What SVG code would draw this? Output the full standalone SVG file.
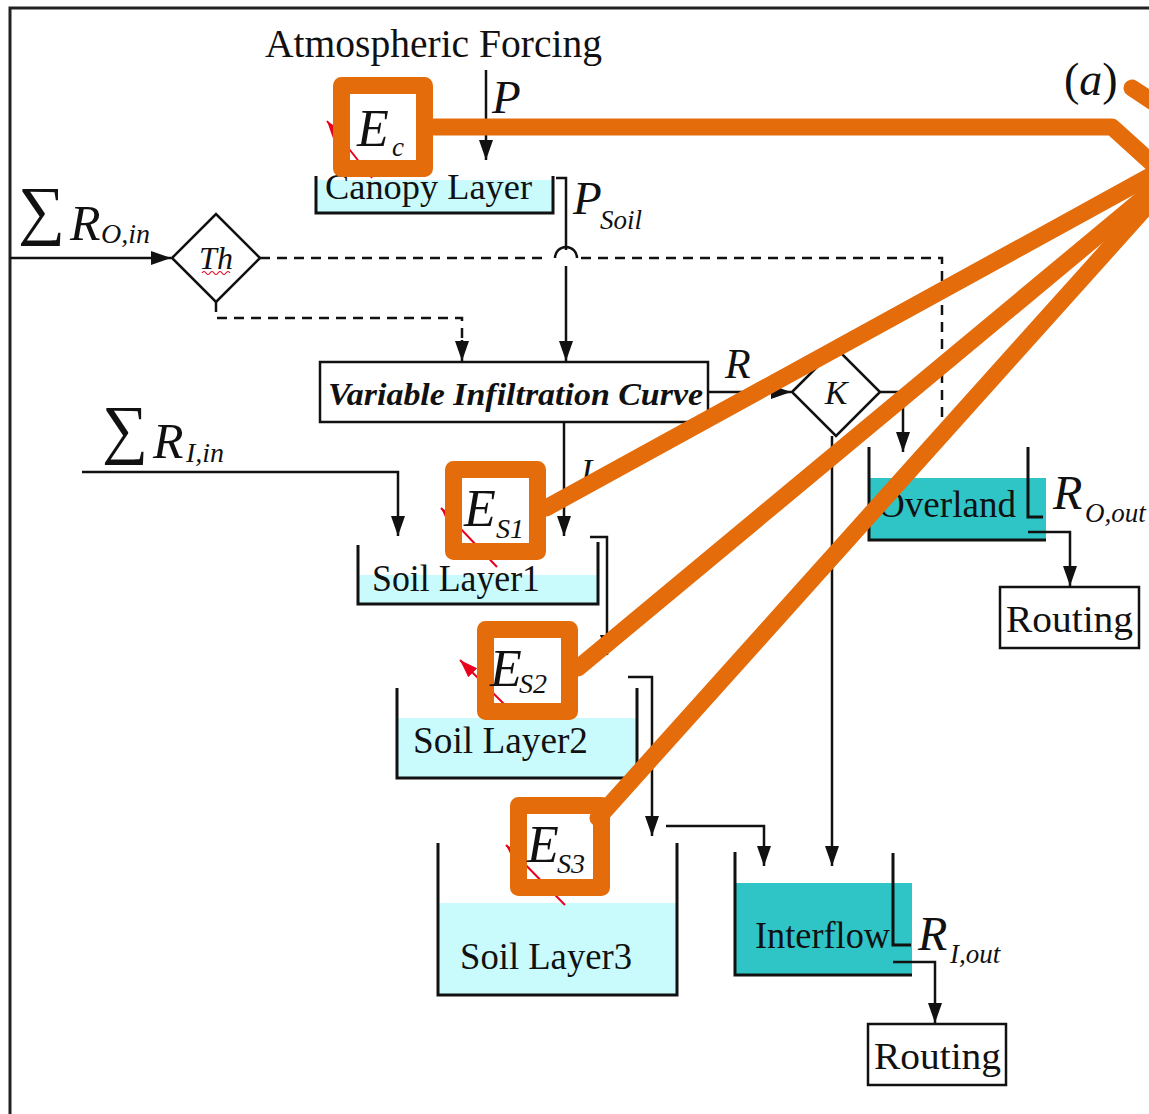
<svg xmlns="http://www.w3.org/2000/svg" width="1149" height="1114" viewBox="0 0 1149 1114">
<defs>
<style>
.t{font-family:"Liberation Serif","Times New Roman",serif;fill:#111}
.i{font-style:italic}
.ln{stroke:#111;stroke-width:2.5;fill:none}
.ds{stroke:#111;stroke-width:2.5;fill:none;stroke-dasharray:10 7}
.bk{stroke:#111;stroke-width:3;fill:none}
.or{stroke:#e46c0a;stroke-width:17;fill:none;stroke-linecap:round;stroke-linejoin:round}
.orb{stroke:#e46c0a;stroke-width:17;fill:none;stroke-linejoin:round}
.lc{fill:#c9fbfd}
.tl{fill:#2fc5c6}
.rd{stroke:#e8001c;stroke-width:2;fill:none}
</style>
<marker id="ah" viewBox="0 0 20 14" refX="20" refY="7" markerWidth="20" markerHeight="14" markerUnits="userSpaceOnUse" orient="auto">
<path d="M0,0 L20,7 L0,14 z" fill="#111"/>
</marker>
<marker id="ar" viewBox="0 0 20 14" refX="0" refY="7" markerWidth="18" markerHeight="13" markerUnits="userSpaceOnUse" orient="auto">
<path d="M20,0 L0,7 L20,14 z" fill="#e8001c"/>
</marker>
</defs>
<rect width="1149" height="1114" fill="#fff"/>
<path d="M10,1114 V8 H1149" stroke="#222" stroke-width="3" fill="none"/>

<g id="title">
<text class="t" x="265" y="57" font-size="39" textLength="337" lengthAdjust="spacingAndGlyphs">Atmospheric Forcing</text>
<text class="t" x="1064" y="95" font-size="46"><tspan>(</tspan><tspan class="i">a</tspan><tspan>)</tspan></text>
</g>

<g id="canopy">
<rect class="lc" x="317" y="180" width="235" height="32"/>
<path class="bk" d="M316,176 V213 H553 V176"/>
<text class="t" x="325" y="199" font-size="36" textLength="207" lengthAdjust="spacingAndGlyphs">Canopy Layer</text>
</g>

<g id="th">
<polygon points="172,258 216,214 260,258 216,302" fill="#fff" stroke="#111" stroke-width="2.5"/>
<text class="t i" x="216" y="269" font-size="32" text-anchor="middle">Th</text>
<path d="M202,273 q2,-3 4,0 t4,0 t4,0 t4,0 t4,0 t4,0 t4,0" stroke="#e8001c" stroke-width="1.2" fill="none"/>
</g>

<g id="vic">
<rect x="320" y="362" width="388" height="60" fill="#fff" stroke="#111" stroke-width="2.5"/>
<text class="t i" x="328" y="405" font-size="32" font-weight="bold" textLength="375" lengthAdjust="spacingAndGlyphs">Variable Infiltration Curve</text>
</g>

<g id="k">
<polygon points="792,392 836,348 880,392 836,436" fill="#fff" stroke="#111" stroke-width="2.5"/>
<text class="t i" x="836" y="404" font-size="34" text-anchor="middle">K</text>
</g>

<g id="overland">
<rect class="tl" x="869" y="478" width="177" height="62"/>
<path class="bk" d="M869,447 V540 H1046"/>
<path class="bk" d="M1028,447 V517 H1043"/>
<text class="t" x="878" y="517" font-size="37" textLength="138" lengthAdjust="spacingAndGlyphs">Overland</text>
</g>

<g id="routing1">
<rect x="1000" y="587" width="139" height="61" fill="#fff" stroke="#111" stroke-width="2.5"/>
<text class="t" x="1006" y="632" font-size="38" textLength="127" lengthAdjust="spacingAndGlyphs">Routing</text>
</g>

<g id="soil1">
<rect class="lc" x="359" y="575" width="238" height="29"/>
<path class="bk" d="M358,545 V604 H598 V542"/>
<text class="t" x="372" y="591" font-size="37" textLength="168" lengthAdjust="spacingAndGlyphs">Soil Layer1</text>
</g>

<g id="soil2">
<rect class="lc" x="398" y="718" width="238" height="60"/>
<path class="bk" d="M397,688 V778 H637 V688"/>
<text class="t" x="413" y="753" font-size="37" textLength="175" lengthAdjust="spacingAndGlyphs">Soil Layer2</text>
</g>

<g id="soil3">
<rect class="lc" x="439" y="903" width="237" height="92"/>
<path class="bk" d="M438,843 V995 H677 V843"/>
<text class="t" x="460" y="969" font-size="37" textLength="172" lengthAdjust="spacingAndGlyphs">Soil Layer3</text>
</g>

<g id="interflow">
<rect class="tl" x="736" y="883" width="176" height="92"/>
<path class="bk" d="M735,852 V975 H912"/>
<path class="bk" d="M893,853 V945 H911"/>
<text class="t" x="755" y="948" font-size="37" textLength="135" lengthAdjust="spacingAndGlyphs">Interflow</text>
</g>

<g id="routing2">
<rect x="868" y="1024" width="138" height="61" fill="#fff" stroke="#111" stroke-width="2.5"/>
<text class="t" x="874" y="1069" font-size="38" textLength="127" lengthAdjust="spacingAndGlyphs">Routing</text>
</g>

<g id="labels">
<text class="t i" x="492" y="113" font-size="47">P</text>
<text class="t i" x="573" y="214" font-size="47">P</text>
<text class="t i" x="600" y="229" font-size="27">Soil</text>
<text class="t" x="18" y="232" font-size="66" textLength="47" lengthAdjust="spacingAndGlyphs">∑</text>
<text class="t i" x="70" y="240" font-size="50">R</text>
<text class="t i" x="101" y="243" font-size="28">O,in</text>
<text class="t" x="102" y="451" font-size="66" textLength="46" lengthAdjust="spacingAndGlyphs">∑</text>
<text class="t i" x="153" y="458" font-size="50">R</text>
<text class="t i" x="186" y="462" font-size="28">I,in</text>
<text class="t i" x="725" y="378" font-size="42">R</text>
<text class="t i" x="581" y="482" font-size="34">I</text>
<text class="t i" x="1053" y="509" font-size="48">R</text>
<text class="t i" x="1085" y="522" font-size="27">O,out</text>
<text class="t i" x="918" y="950" font-size="48">R</text>
<text class="t i" x="950" y="963" font-size="27">I,out</text>
</g>

<g id="connectors">
<path class="ln" d="M486,70 V160" marker-end="url(#ah)"/>
<path class="ln" d="M556,178 H566 V250 M566,266 V361" marker-end="url(#ah)"/>
<path class="ln" d="M10,258 H171" marker-end="url(#ah)"/>
<path class="ds" d="M260,258 H548"/>
<path class="ln" d="M555,258 A11,11 0 0 1 577,258"/>
<path class="ds" d="M581,258 H942 V445"/>
<path class="ds" d="M216,302 V318 H462 V345"/>
<path class="ln" d="M462,340 V361" marker-end="url(#ah)"/>
<path class="ln" d="M708,392 H791" marker-end="url(#ah)"/>
<path class="ln" d="M880,392 H903 V452" marker-end="url(#ah)"/>
<path class="ln" d="M832,436 V866" marker-end="url(#ah)"/>
<path class="ln" d="M1028,532 H1070 V586" marker-end="url(#ah)"/>
<path class="ln" d="M82,472 H398 V536" marker-end="url(#ah)"/>
<path class="ln" d="M564,422 V536" marker-end="url(#ah)"/>
<path class="ln" d="M590,537 H607 V655" marker-end="url(#ah)"/>
<path class="ln" d="M628,677 H652 V836" marker-end="url(#ah)"/>
<path class="ln" d="M666,826 H764 V866" marker-end="url(#ah)"/>
<path class="ln" d="M893,962 H935 V1023" marker-end="url(#ah)"/>
</g>

<g id="evaporation">
<path class="rd" d="M327,121 L372,178" marker-start="url(#ar)"/>
<path class="rd" d="M441,508 L497,567" marker-start="url(#ar)"/>
<path class="rd" d="M460,660 L505,705" marker-start="url(#ar)"/>
<path class="rd" d="M506,845 L565,905" marker-start="url(#ar)"/>
</g>

<g id="highlights">
<path class="or" d="M433,127 H1112 L1165,175"/>
<path class="or" d="M546,508 L1165,168"/>
<path class="or" d="M578,668 L1165,180"/>
<path class="or" d="M598,818 L1165,186"/>
<path class="or" d="M1132,88 L1165,110"/>
<rect class="orb" x="341.5" y="85.5" width="83" height="83"/>
<rect class="orb" x="453.5" y="469.5" width="84" height="82"/>
<rect class="orb" x="485.5" y="629.5" width="84" height="82"/>
<rect class="orb" x="518.5" y="805.5" width="83" height="82"/>
</g>

<g id="symbols">
<text class="t i" x="357" y="146" font-size="52">E</text>
<text class="t i" x="392" y="156" font-size="27">c</text>
<text class="t i" x="464" y="526" font-size="52">E</text>
<text class="t i" x="496" y="538" font-size="28">S1</text>
<text class="t i" x="490" y="686" font-size="52">E</text>
<text class="t i" x="519" y="693" font-size="28">S2</text>
<text class="t i" x="527" y="862" font-size="52">E</text>
<text class="t i" x="557" y="873" font-size="28">S3</text>
</g>
</svg>
